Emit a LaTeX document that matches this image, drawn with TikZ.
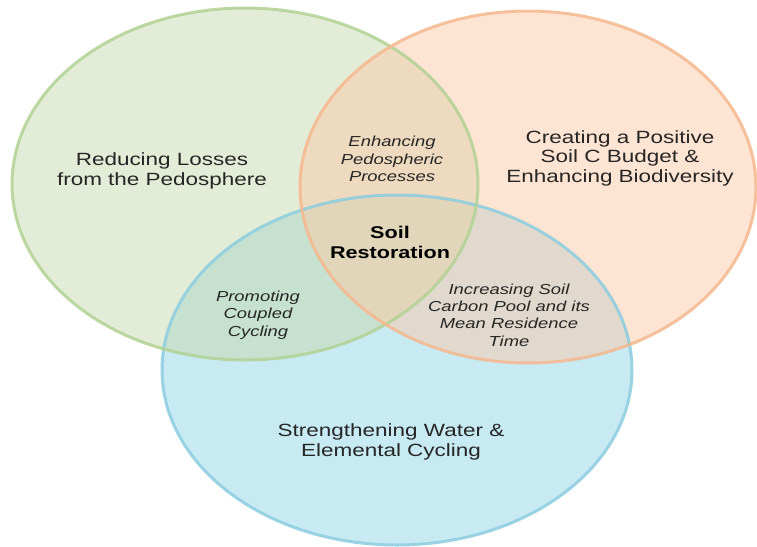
\documentclass[tikz,border=0pt]{standalone}
\usepackage{fontspec}
\setmainfont{Liberation Sans}[FakeStretch=1.27]
\usepackage{tikz}

\definecolor{leafgreen}{RGB}{199,217,173}
\definecolor{leafline}{RGB}{178,210,148}
\definecolor{peach}{RGB}{251,201,167}
\definecolor{peachline}{RGB}{245,184,142}
\definecolor{aqua}{RGB}{145,213,231}
\definecolor{aqualine}{RGB}{140,205,224}

\begin{document}
\begin{tikzpicture}[x=1pt,y=-1pt,
    ring/.style={line width=3pt, draw opacity=0.85},
    main/.style={align=center, text=black!85, font=\fontsize{17.7}{19.5}\selectfont},
    pair/.style={align=center, text=black!85, font=\itshape\fontsize{14.5}{17.3}\selectfont},
    core/.style={align=center, text=black, font=\bfseries\fontsize{17}{20}\selectfont}]
    % --- 1. picture frame ---
    \useasboundingbox (0,0) rectangle (757,546);

    % --- 2. three rings: centres and radii ---
    \coordinate (G) at (245,184);
    \coordinate (O) at (528,187);
    \coordinate (B) at (397,370);

    % --- 3. fills (blue underneath), then outlines ---
    \fill[aqua, fill opacity=0.5] (B) ellipse [x radius=235, y radius=175];
    \fill[leafgreen, fill opacity=0.5] (G) ellipse [x radius=233, y radius=176];
    \fill[peach, fill opacity=0.5] (O) ellipse [x radius=228, y radius=176];
    \draw[ring, aqualine] (B) ellipse [x radius=235, y radius=175];
    \draw[ring, leafline] (G) ellipse [x radius=233, y radius=176];
    \draw[ring, peachline] (O) ellipse [x radius=228, y radius=176];

    % --- 4. labels ---
    \node[main] (losses) at (162,171) {Reducing Losses\\from the Pedosphere};
    \node[main] (budget) at (620,158) {Creating a Positive\\Soil C Budget \&\\Enhancing Biodiversity};
    \node[main] (water) at (391,442) {Strengthening Water \&\\Elemental Cycling};
    \node[pair] (pedo) at (392,159) {Enhancing\\Pedospheric\\Processes};
    \node[pair] (coupled) at (258,315) {Promoting\\Coupled\\Cycling};
    \node[pair] (carbon) at (509,315) {Increasing Soil\\Carbon Pool and its\\Mean Residence\\Time};
    \node[core] (soil) at (390,242) {Soil\\Restoration};
\end{tikzpicture}
\end{document}
